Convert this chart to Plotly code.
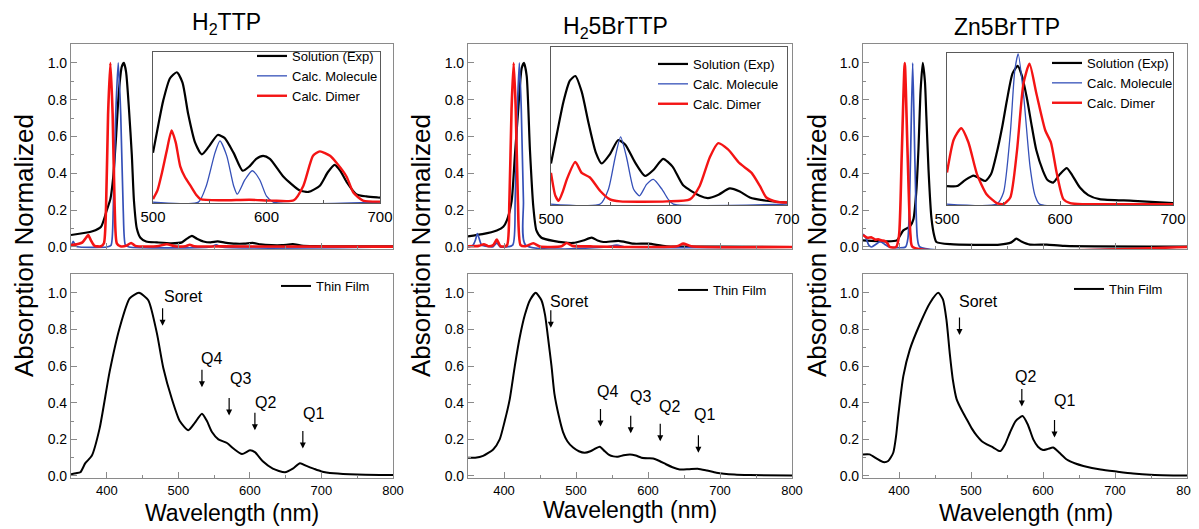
import plotly.graph_objects as go

# page is shown in a 1199x529 window whose body keeps an 8px margin
WIN_W, WIN_H, OFF = 1199, 529, 8
W, H = WIN_W - OFF, WIN_H - OFF
FONT = "Liberation Sans, Arial, sans-serif"
BLACK, BLUE, RED = "#000000", "#3550b8", "#f41414"

# ---------------- data: H2TTP ----------------
h2ttp_sol_wl = [350, 380, 392, 400, 405, 409, 413, 417, 421, 424, 427, 431, 435, 438, 442, 447, 455, 470, 490, 505, 512, 519, 526, 535, 545, 555, 565, 580, 592, 604, 615, 630, 645, 660, 672, 690, 720, 800]
h2ttp_sol_abs = [0.065, 0.085, 0.11, 0.2, 0.26, 0.38, 0.6, 0.85, 0.98, 1.0, 0.95, 0.75, 0.5, 0.25, 0.1, 0.05, 0.03, 0.025, 0.02, 0.025, 0.045, 0.06, 0.045, 0.03, 0.025, 0.03, 0.024, 0.018, 0.018, 0.022, 0.014, 0.01, 0.01, 0.015, 0.008, 0.005, 0.004, 0.003]
h2ttp_mol_wl = [350, 353, 357, 362, 400, 406, 409, 412.5, 416, 419.5, 423, 426, 431, 545, 553, 560, 800]
h2ttp_mol_abs = [0.0, 0.03, 0.005, 0.0, 0.0, 0.01, 0.2, 0.72, 1.0, 0.72, 0.2, 0.01, 0.0, 0.0, 0.012, 0.0, 0.0]
h2ttp_dim_wl = [350, 358, 366, 371, 374, 378, 383, 392, 396, 399, 401.8, 405, 408.2, 411, 414, 419, 428, 434, 440, 470, 484, 495, 510, 516, 522, 560, 800]
h2ttp_dim_abs = [0.01, 0.015, 0.025, 0.05, 0.065, 0.035, 0.006, 0.004, 0.02, 0.22, 0.72, 1.0, 0.72, 0.22, 0.02, 0.004, 0.008, 0.022, 0.006, 0.004, 0.015, 0.004, 0.004, 0.012, 0.004, 0.003, 0.002]
h2ttp_in_sol_wl = [500, 505, 509, 515, 521, 526, 531, 537, 543, 549, 557, 563, 571, 579, 585, 591, 597, 603, 615, 629, 637, 647, 654, 660, 665, 671, 679, 688, 698, 700]
h2ttp_in_sol_val = [0.33, 0.53, 0.68, 0.83, 0.87, 0.8, 0.59, 0.4, 0.32, 0.37, 0.45, 0.43, 0.33, 0.21, 0.24, 0.29, 0.31, 0.29, 0.17, 0.08, 0.068, 0.11, 0.2, 0.25, 0.21, 0.13, 0.053, 0.038, 0.031, 0.03]
h2ttp_in_mol_wl = [500, 540, 547, 554.6, 559, 565, 571, 574.3, 581, 587.5, 594, 600, 606, 700]
h2ttp_in_mol_val = [0.0, 0.0, 0.11, 0.33, 0.41, 0.31, 0.11, 0.053, 0.15, 0.21, 0.15, 0.04, 0.0, 0.0]
h2ttp_in_dim_wl = [500, 504, 508, 512, 516.4, 520, 524, 528, 533, 538, 542, 560, 585, 605, 624, 632.5, 641, 647, 656, 662, 670.6, 676.5, 685, 700]
h2ttp_in_dim_val = [0.02, 0.08, 0.2, 0.34, 0.48, 0.4, 0.24, 0.17, 0.11, 0.05, 0.02, 0.012, 0.016, 0.01, 0.012, 0.11, 0.31, 0.34, 0.31, 0.26, 0.17, 0.064, 0.01, 0.003]
h2ttp_film_wl = [350, 357, 363, 370, 379, 390, 404, 418, 432, 445, 458, 470, 479, 491, 502, 514, 523, 533, 540, 547, 556, 568, 577, 589, 600, 607, 618, 632, 649, 660, 670, 679, 689, 700, 717, 750, 800]
h2ttp_film_abs = [0.01, 0.015, 0.02, 0.07, 0.11, 0.26, 0.57, 0.81, 0.97, 1.0, 0.96, 0.78, 0.59, 0.42, 0.3, 0.25, 0.29, 0.34, 0.3, 0.24, 0.2, 0.18, 0.15, 0.12, 0.14, 0.13, 0.08, 0.04, 0.02, 0.04, 0.07, 0.055, 0.04, 0.025, 0.015, 0.008, 0.005]

# ---------------- data: H25BrTTP ----------------
h25br_sol_wl = [350, 370, 390, 399, 404, 410.6, 415, 420, 424.5, 427.8, 431.5, 436, 440.7, 445, 452, 468.5, 496, 510, 521.8, 530, 538, 559, 580, 600.5, 626, 700, 800]
h25br_sol_abs = [0.058, 0.07, 0.09, 0.11, 0.145, 0.25, 0.49, 0.76, 0.97, 1.0, 0.93, 0.53, 0.22, 0.09, 0.05, 0.033, 0.022, 0.035, 0.051, 0.035, 0.027, 0.033, 0.018, 0.018, 0.004, 0.002, 0.0]
h25br_mol_wl = [350, 357, 360.5, 363, 366, 369, 385, 390, 395, 412, 415.5, 418.5, 421.3, 424, 427, 430, 540, 556.5, 570, 800]
h25br_mol_abs = [0.0, 0.01, 0.04, 0.073, 0.04, 0.01, 0.002, 0.022, 0.0, 0.01, 0.25, 0.75, 1.0, 0.75, 0.25, 0.01, 0.0, 0.01, 0.0, 0.0]
h25br_dim_wl = [350, 365, 372, 378, 385, 390, 395, 404, 407.5, 410.5, 413.4, 416.3, 419.3, 423, 430, 440.7, 450, 480, 487, 495, 520, 640, 649, 660, 800]
h25br_dim_abs = [0.004, 0.006, 0.015, 0.004, 0.01, 0.04, 0.004, 0.008, 0.25, 0.75, 1.0, 0.75, 0.25, 0.01, 0.004, 0.02, 0.002, 0.004, 0.022, 0.006, 0.003, 0.004, 0.018, 0.004, 0.0]
h25br_in_sol_wl = [500, 505, 510.7, 516, 520.6, 526, 531.8, 538, 543, 550, 557, 563, 571, 579.7, 587, 595, 603, 612, 626, 633, 642, 651.5, 660, 668.5, 682.5, 700]
h25br_in_sol_val = [0.26, 0.45, 0.66, 0.79, 0.82, 0.72, 0.52, 0.33, 0.26, 0.32, 0.41, 0.38, 0.27, 0.18, 0.22, 0.29, 0.24, 0.12, 0.053, 0.038, 0.06, 0.1, 0.08, 0.042, 0.021, 0.01]
h25br_in_mol_wl = [500, 541.7, 548.7, 554.4, 559, 564, 570, 575, 581, 586.8, 594, 599.4, 603.7, 700]
h25br_in_mol_val = [0.0, 0.0, 0.095, 0.3, 0.43, 0.3, 0.095, 0.053, 0.126, 0.158, 0.095, 0.03, 0.0, 0.0]
h25br_in_dim_wl = [500, 503.7, 506.5, 510, 513.5, 520.6, 526, 533, 541.7, 550, 558.6, 598, 617.7, 626, 634.6, 641.7, 650, 660, 670, 677, 682.5, 691, 700]
h25br_in_dim_val = [0.2, 0.053, 0.021, 0.08, 0.16, 0.27, 0.2, 0.17, 0.084, 0.03, 0.017, 0.017, 0.03, 0.116, 0.3, 0.39, 0.35, 0.26, 0.2, 0.116, 0.042, 0.015, 0.01]
h25br_film_wl = [350, 360, 371, 385, 394, 401, 408, 415, 422, 429, 436, 444, 452, 457, 461, 466, 470, 476, 482, 488, 496, 504, 512, 520, 527, 533, 540, 546, 552, 558, 566, 575, 583, 591, 600, 607, 616, 625, 634, 644, 656, 669, 682, 695, 720, 741, 800]
h25br_film_abs = [0.1, 0.1, 0.11, 0.145, 0.2, 0.3, 0.42, 0.6, 0.76, 0.88, 0.96, 1.0, 0.96, 0.88, 0.76, 0.6, 0.45, 0.33, 0.24, 0.19, 0.155, 0.135, 0.127, 0.135, 0.15, 0.16, 0.135, 0.115, 0.107, 0.105, 0.113, 0.118, 0.112, 0.1, 0.097, 0.096, 0.082, 0.064, 0.048, 0.036, 0.037, 0.04, 0.03, 0.018, 0.008, 0.005, 0.002]

# ---------------- data: Zn5BrTTP ----------------
zn5br_sol_wl = [350, 383, 397, 406, 415, 420, 424, 427, 430, 433, 436, 438, 441, 445, 449, 452, 471, 540, 556, 563, 570, 582, 605, 630, 800]
zn5br_sol_abs = [0.036, 0.03, 0.036, 0.09, 0.11, 0.15, 0.3, 0.53, 0.85, 1.0, 0.9, 0.71, 0.42, 0.16, 0.06, 0.027, 0.015, 0.013, 0.025, 0.045, 0.03, 0.013, 0.013, 0.006, 0.002]
zn5br_mol_wl = [350, 354, 358, 362, 368, 374, 380, 387, 409, 412.5, 415.8, 419, 422.2, 425.5, 429, 800]
zn5br_mol_abs = [0.07, 0.05, 0.01, 0.0, 0.015, 0.03, 0.015, 0.0, 0.0, 0.05, 0.45, 1.0, 0.45, 0.05, 0.0, 0.0]
zn5br_dim_wl = [350, 356, 362, 367, 371, 376, 380, 384, 387, 396, 400, 403.8, 408, 412, 416, 419, 800]
zn5br_dim_abs = [0.065, 0.05, 0.052, 0.04, 0.042, 0.035, 0.033, 0.02, 0.0, 0.0, 0.06, 0.5, 1.0, 0.5, 0.06, 0.0, 0.0]
zn5br_in_sol_wl = [500, 509, 516, 523.5, 529, 534, 539, 544, 549, 553, 558, 562.6, 566, 570.6, 575, 579, 585, 589, 594, 600, 606, 611, 617.6, 625, 635, 665, 700]
zn5br_in_sol_val = [0.12, 0.12, 0.16, 0.19, 0.17, 0.154, 0.2, 0.34, 0.52, 0.69, 0.87, 0.92, 0.86, 0.71, 0.52, 0.36, 0.22, 0.16, 0.143, 0.2, 0.24, 0.19, 0.11, 0.06, 0.033, 0.022, 0.007]
zn5br_in_mol_wl = [500, 544, 550, 556, 560, 563, 567.6, 573.5, 578, 582, 700]
zn5br_in_mol_val = [0.0, 0.0, 0.077, 0.47, 0.89, 1.0, 0.74, 0.25, 0.055, 0.0, 0.0]
zn5br_in_dim_wl = [500, 506, 512.6, 519, 526.5, 535, 544, 550, 556, 562, 567.6, 573, 579, 587, 592, 597, 603, 609, 620, 700]
zn5br_in_dim_val = [0.21, 0.43, 0.505, 0.41, 0.2, 0.066, 0.007, 0.0, 0.044, 0.36, 0.8, 0.934, 0.74, 0.49, 0.41, 0.21, 0.033, 0.007, 0.0, 0.0]
zn5br_film_wl = [350, 359, 369, 378, 385, 392, 396, 399, 406, 415, 429, 443, 454.5, 461, 466, 470.5, 475, 480, 487, 494, 501, 508, 515, 522, 531, 537, 541, 547, 554, 562, 571.6, 579, 586.5, 593, 600, 607, 614, 622, 633, 645, 656, 680, 702.5, 725, 749, 800]
zn5br_film_abs = [0.118, 0.118, 0.095, 0.076, 0.082, 0.127, 0.22, 0.33, 0.545, 0.69, 0.83, 0.945, 1.0, 0.964, 0.85, 0.67, 0.52, 0.42, 0.36, 0.31, 0.26, 0.22, 0.19, 0.173, 0.155, 0.14, 0.136, 0.17, 0.236, 0.3, 0.327, 0.28, 0.2, 0.16, 0.142, 0.148, 0.155, 0.13, 0.09, 0.068, 0.055, 0.035, 0.024, 0.014, 0.007, 0.002]

titles = ["H<sub>2</sub>TTP", "H<sub>2</sub>5BrTTP", "Zn5BrTTP"]
legend_names = ["Solution (Exp)", "Calc. Molecule", "Calc. Dimer"]
film_name = "Thin Film"

# arrow labels: (label, arrow x, arrow tip y, text x, text y)
marks = [
    [("Soret", 478, 0.82, 477, 0.98), ("Q4", 533, 0.485, 529, 0.64), ("Q3", 571, 0.33, 570, 0.53),
     ("Q2", 607, 0.25, 605, 0.40), ("Q1", 674, 0.15, 672, 0.34)],
    [("Soret", 465, 0.81, 461, 0.955), ("Q4", 534, 0.27, 526, 0.46), ("Q3", 576, 0.233, 572, 0.436),
     ("Q2", 617, 0.19, 613, 0.38), ("Q1", 670, 0.127, 661, 0.336)],
    [("Soret", 484, 0.77, 481, 0.955), ("Q2", 570.6, 0.38, 559, 0.545), ("Q1", 616, 0.21, 612, 0.41)],
]

cols = [
    dict(sol=(h2ttp_sol_wl, h2ttp_sol_abs), mol=(h2ttp_mol_wl, h2ttp_mol_abs), dim=(h2ttp_dim_wl, h2ttp_dim_abs),
         isol=(h2ttp_in_sol_wl, h2ttp_in_sol_val), imol=(h2ttp_in_mol_wl, h2ttp_in_mol_val), idim=(h2ttp_in_dim_wl, h2ttp_in_dim_val),
         film=(h2ttp_film_wl, h2ttp_film_abs)),
    dict(sol=(h25br_sol_wl, h25br_sol_abs), mol=(h25br_mol_wl, h25br_mol_abs), dim=(h25br_dim_wl, h25br_dim_abs),
         isol=(h25br_in_sol_wl, h25br_in_sol_val), imol=(h25br_in_mol_wl, h25br_in_mol_val), idim=(h25br_in_dim_wl, h25br_in_dim_val),
         film=(h25br_film_wl, h25br_film_abs)),
    dict(sol=(zn5br_sol_wl, zn5br_sol_abs), mol=(zn5br_mol_wl, zn5br_mol_abs), dim=(zn5br_dim_wl, zn5br_dim_abs),
         isol=(zn5br_in_sol_wl, zn5br_in_sol_val), imol=(zn5br_in_mol_wl, zn5br_in_mol_val), idim=(zn5br_in_dim_wl, zn5br_in_dim_val),
         film=(zn5br_film_wl, zn5br_film_abs)),
]

# ---------------- layout geometry (window pixels) ----------------
main_x = [(71, 393), (468, 792), (863, 1187)]
top_y = (44, 249)
bot_y = (274, 478)
inset_box = [((153, 380), (52, 203)), ((551, 787), (47, 205)), ((947, 1173), (53, 205))]
title_pos = [(226, 24), (615, 27), (1007, 27)]
ylab_x = [24, 421, 817]
xlab_pos = [(232, 513), (630, 510), (1026, 513)]
inset_leg = [(252, 41), (653, 49), (1047, 48)]
film_leg = [(276, 271), (673, 275), (1069, 274)]


def fx(px):
    return (px - OFF) / W


def fy(py):
    return 1 - (py - OFF) / H


fig = go.Figure()
layout = dict(width=W, height=H, margin=dict(l=0, r=0, t=0, b=0),
              paper_bgcolor="white", plot_bgcolor="white",
              font=dict(family=FONT, size=13, color="black"), showlegend=True)
annotations = []

for c, d in enumerate(cols):
    it, ii, ib = 3 * c + 1, 3 * c + 2, 3 * c + 3
    sfx = lambda n: "" if n == 1 else str(n)
    leg_in = "legend" if c == 0 else "legend%d" % (c + 1)
    leg_film = "legend%d" % (c + 4)
    # main top
    for key, col, wd in (("sol", BLACK, 2.2), ("mol", BLUE, 1.7), ("dim", RED, 2.6)):
        fig.add_trace(go.Scatter(x=d[key][0], y=d[key][1], mode="lines",
                                 line=dict(color=col, width=wd, shape="spline", smoothing=0.6),
                                 xaxis="x" + sfx(it), yaxis="y" + sfx(it), showlegend=False, hoverinfo="skip"))
    # inset
    for key, col, wd, nm in (("isol", BLACK, 2.2, legend_names[0]), ("imol", BLUE, 1.3, legend_names[1]),
                             ("idim", RED, 2.4, legend_names[2])):
        fig.add_trace(go.Scatter(x=d[key][0], y=d[key][1], mode="lines", name=nm,
                                 line=dict(color=col, width=wd, shape="spline", smoothing=0.6),
                                 xaxis="x" + sfx(ii), yaxis="y" + sfx(ii), legend=leg_in, hoverinfo="skip"))
    # bottom film
    fig.add_trace(go.Scatter(x=d["film"][0], y=d["film"][1], mode="lines", name=film_name,
                             line=dict(color=BLACK, width=2.0, shape="spline", smoothing=0.6),
                             xaxis="x" + sfx(ib), yaxis="y" + sfx(ib), legend=leg_film, hoverinfo="skip"))

    x0, x1 = main_x[c]
    common = dict(showline=True, mirror=True, linecolor="#8a8a8a", linewidth=1.2, showgrid=False,
                  zeroline=False, ticks="inside", tickcolor="#8a8a8a", ticklen=6, automargin=False)
    for n, (ya, yb), showlab in ((it, top_y, False), (ib, bot_y, True)):
        layout["xaxis" + sfx(n)] = dict(common, domain=[fx(x0), fx(x1)], range=[350, 800], dtick=100, tick0=400,
                                        showticklabels=showlab, anchor="y" + sfx(n), ticklabelstandoff=0,
                                        tickfont=dict(size=13, family=FONT),
                                        minor=dict(dtick=50, tick0=350, ticks="inside", ticklen=3, tickcolor="#8a8a8a"))
        layout["yaxis" + sfx(n)] = dict(common, domain=[fy(yb), fy(ya)], range=[-0.011, 1.103], dtick=0.2, tick0=0,
                                        tickformat=".1f", anchor="x" + sfx(n), tickfont=dict(size=14, family=FONT),
                                        minor=dict(dtick=0.1, ticks="inside", ticklen=3, tickcolor="#8a8a8a"))
    (ix0, ix1), (iy0, iy1) = inset_box[c]
    layout["xaxis" + sfx(ii)] = dict(showline=True, mirror=True, linecolor="#5a5a5a", linewidth=1.2, showgrid=False,
                                     zeroline=False, domain=[fx(ix0), fx(ix1)], range=[500, 700], dtick=100,
                                     ticks="inside", ticklen=4, tickcolor="#5a5a5a", anchor="y" + sfx(ii),
                                     tickfont=dict(size=15, family=FONT), automargin=False,
                                     minor=dict(dtick=50, ticks="inside", ticklen=3, tickcolor="#5a5a5a"))
    layout["yaxis" + sfx(ii)] = dict(showline=True, mirror=True, linecolor="#5a5a5a", linewidth=1.2, showgrid=False,
                                     zeroline=False, domain=[fy(iy1), fy(iy0)], range=[-0.006, 1.006],
                                     showticklabels=False, ticks="", anchor="x" + sfx(ii), automargin=False)
    # legends
    lx, ly = inset_leg[c]
    layout[leg_in] = dict(x=fx(lx), y=fy(ly), xanchor="left", yanchor="top", bgcolor="rgba(0,0,0,0)",
                          font=dict(size=13, family=FONT), itemwidth=30, tracegroupgap=0)
    flx, fly = film_leg[c]
    layout[leg_film] = dict(x=fx(flx), y=fy(fly), xanchor="left", yanchor="top", bgcolor="rgba(0,0,0,0)",
                            font=dict(size=13, family=FONT), itemwidth=30)

    # texts
    tx, ty = title_pos[c]
    annotations.append(dict(text=titles[c], x=fx(tx), y=fy(ty), xref="paper", yref="paper", showarrow=False,
                            font=dict(size=23, family=FONT), xanchor="center", yanchor="middle"))
    annotations.append(dict(text="Absorption Normalized", x=fx(ylab_x[c]), y=fy(246), xref="paper", yref="paper",
                            showarrow=False, textangle=-90, font=dict(size=26, family=FONT),
                            xanchor="center", yanchor="middle"))
    xx, xy = xlab_pos[c]
    annotations.append(dict(text="Wavelength (nm)", x=fx(xx), y=fy(xy), xref="paper", yref="paper",
                            showarrow=False, font=dict(size=23, family=FONT), xanchor="center", yanchor="middle"))
    for lab, axp, tip, txp, typ in marks[c]:
        annotations.append(dict(text="", x=axp, y=tip, xref="x" + sfx(ib), yref="y" + sfx(ib), showarrow=True,
                                ax=0, ay=-19, arrowhead=2, arrowsize=1, arrowwidth=1.2, arrowcolor="black",
                                standoff=0))
        annotations.append(dict(text=lab, x=txp, y=typ, xref="x" + sfx(ib), yref="y" + sfx(ib), showarrow=False,
                                xanchor="left", yanchor="middle", font=dict(size=16, family=FONT)))

layout["annotations"] = annotations
fig.update_layout(**layout)
fig.write_html("out.html")
